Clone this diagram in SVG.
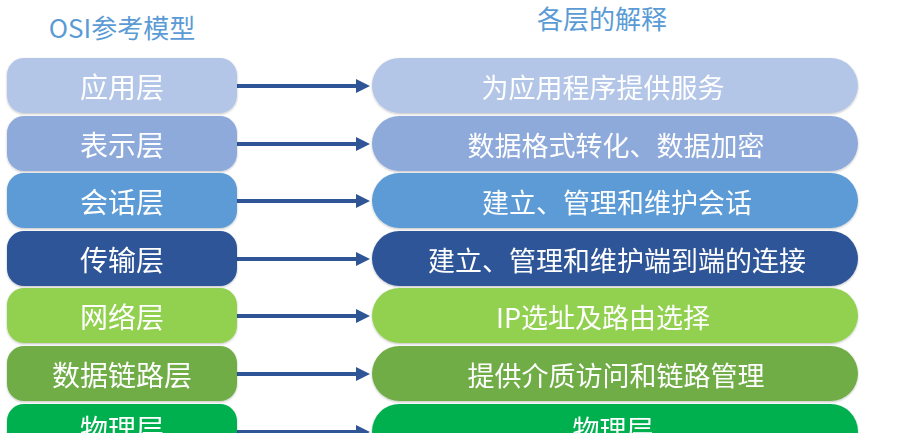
<svg xmlns="http://www.w3.org/2000/svg" width="913" height="433" viewBox="0 0 913 433">
<style>
.title{font-family:"Noto Sans CJK SC","Noto Sans",sans-serif;font-size:26px;fill:#5b9bd5;text-anchor:middle}
.lt{font-family:"Noto Sans CJK SC",sans-serif;font-size:28px;fill:#ffffff;text-anchor:middle;dominant-baseline:central}
.rt{font-family:"Noto Sans CJK SC","Noto Sans",sans-serif;font-size:27px;fill:#ffffff;text-anchor:middle;dominant-baseline:central}
.c1{fill:#b4c6e7}.c2{fill:#8eaadb}.c3{fill:#5b9bd5}.c4{fill:#2f5597}.c5{fill:#92d050}.c6{fill:#70ad47}.c7{fill:#00b050}
.ln{stroke:#2f5597;stroke-width:4;fill:none}
.hd{fill:#2f5597}
</style>
<defs>
<filter id="sh" x="-5%" y="-10%" width="110%" height="125%">
<feGaussianBlur in="SourceAlpha" stdDeviation="1.2"/>
<feOffset dy="1"/>
<feComponentTransfer><feFuncA type="linear" slope="0.25"/></feComponentTransfer>
<feMerge><feMergeNode/><feMergeNode in="SourceGraphic"/></feMerge>
</filter>
</defs>
<rect width="913" height="433" fill="#ffffff"/>
<text class="title" x="122" y="38">OSI参考模型</text>
<text class="title" x="602" y="29">各层的解释</text>

<g id="connectors">
<line class="ln" x1="237" y1="86" x2="358" y2="86"/><polygon class="hd" points="356,79 370,86 356,93"/>
<line class="ln" x1="237" y1="144" x2="358" y2="144"/><polygon class="hd" points="356,137 370,144 356,151"/>
<line class="ln" x1="237" y1="201" x2="358" y2="201"/><polygon class="hd" points="356,194 370,201 356,208"/>
<line class="ln" x1="237" y1="259" x2="358" y2="259"/><polygon class="hd" points="356,252 370,259 356,266"/>
<line class="ln" x1="237" y1="316" x2="358" y2="316"/><polygon class="hd" points="356,309 370,316 356,323"/>
<line class="ln" x1="237" y1="374" x2="358" y2="374"/><polygon class="hd" points="356,367 370,374 356,381"/>
<line class="ln" x1="237" y1="432" x2="358" y2="432"/><polygon class="hd" points="356,425 370,432 356,439"/>
</g>

<g id="l1" filter="url(#sh)"><rect class="c1" x="7" y="58" width="230" height="55" rx="17"/><text class="lt" x="122" y="86">应用层</text></g>
<g id="l2" filter="url(#sh)"><rect class="c2" x="7" y="116" width="230" height="55" rx="17"/><text class="lt" x="122" y="144">表示层</text></g>
<g id="l3" filter="url(#sh)"><rect class="c3" x="7" y="173" width="230" height="55" rx="17"/><text class="lt" x="122" y="201">会话层</text></g>
<g id="l4" filter="url(#sh)"><rect class="c4" x="7" y="231" width="230" height="55" rx="17"/><text class="lt" x="122" y="259">传输层</text></g>
<g id="l5" filter="url(#sh)"><rect class="c5" x="7" y="288" width="230" height="55" rx="17"/><text class="lt" x="122" y="316">网络层</text></g>
<g id="l6" filter="url(#sh)"><rect class="c6" x="7" y="346" width="230" height="55" rx="17"/><text class="lt" x="122" y="374">数据链路层</text></g>
<g id="l7" filter="url(#sh)"><rect class="c7" x="7" y="404" width="230" height="55" rx="17"/><text class="lt" x="122" y="428">物理层</text></g>

<g id="r1" filter="url(#sh)"><rect class="c1" x="372" y="58" width="486" height="55" rx="27.5"/><text class="rt" x="603" y="86">为应用程序提供服务</text></g>
<g id="r2" filter="url(#sh)"><rect class="c2" x="372" y="116" width="486" height="55" rx="27.5"/><text class="rt" x="616" y="144">数据格式转化、数据加密</text></g>
<g id="r3" filter="url(#sh)"><rect class="c3" x="372" y="173" width="486" height="55" rx="27.5"/><text class="rt" x="617" y="201">建立、管理和维护会话</text></g>
<g id="r4" filter="url(#sh)"><rect class="c4" x="372" y="231" width="486" height="55" rx="27.5"/><text class="rt" x="617" y="259">建立、管理和维护端到端的连接</text></g>
<g id="r5" filter="url(#sh)"><rect class="c5" x="372" y="288" width="486" height="55" rx="27.5"/><text class="rt" x="603" y="316">IP选址及路由选择</text></g>
<g id="r6" filter="url(#sh)"><rect class="c6" x="372" y="346" width="486" height="55" rx="27.5"/><text class="rt" x="616" y="374">提供介质访问和链路管理</text></g>
<g id="r7" filter="url(#sh)"><rect class="c7" x="372" y="404" width="486" height="55" rx="27.5"/><text class="rt" x="613" y="428">物理层</text></g>
</svg>
